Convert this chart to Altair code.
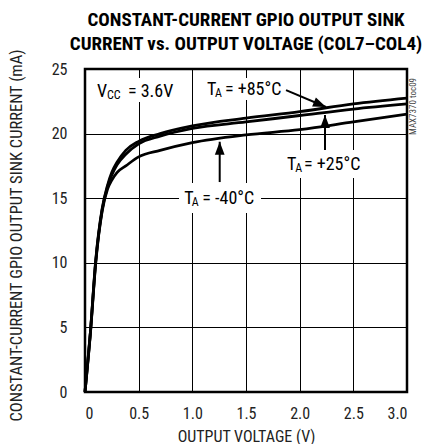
import altair as alt
import pandas as pd

FONT = "'Liberation Sans Narrow', 'Arial Narrow', 'Roboto Condensed', 'DejaVu Sans Condensed', 'Liberation Sans', sans-serif"

# ---- curve data ----
voltage = [0, 0.05, 0.1, 0.16, 0.21, 0.25, 0.30, 0.38, 0.5, 0.7, 1.0, 1.5, 2.0, 2.5, 3.0]
i_p85 = [0, 4.6, 10.2, 14.2, 16.0, 17.0, 17.8, 18.7, 19.4, 20.0, 20.6, 21.2, 21.7, 22.3, 22.75]
i_p25 = [0, 4.6, 10.1, 14.1, 15.9, 16.8, 17.6, 18.4, 19.2, 19.8, 20.4, 20.9, 21.4, 21.9, 22.3]
i_m40 = [0, 4.5, 10.0, 14.0, 15.7, 16.4, 17.0, 17.5, 18.2, 18.7, 19.3, 19.9, 20.3, 20.9, 21.5]
series_names = ["+85", "+25", "-40"]

x_ticks = [0, 0.5, 1.0, 1.5, 2.0, 2.5, 3.0]
y_ticks = [0, 5, 10, 15, 20, 25]

# ---- annotation text segments ----
seg_text = ["V", "CC", "= 3.6V",
            "T", "A", "= +85°C",
            "T", "A", "= +25°C",
            "T", "A", "= -40°C"]
seg_x = [0.112, 0.205, 0.40,
         1.137, 1.211, 1.304,
         1.883, 1.958, 2.04,
         0.925, 0.995, 1.093]
seg_y = [22.83, 22.65, 22.83,
         22.99, 22.80, 22.99,
         17.18, 17.00, 17.18,
         14.55, 14.40, 14.55]
seg_size = [18, 12, 18,
            18, 12, 18,
            18, 12, 18,
            18, 12, 18]

# white boxes behind the labels (break the grid)
box_x0 = [0.065, 1.09, 1.845, 0.876]
box_x1 = [0.80, 1.88, 2.61, 1.64]
box_y0 = [22.45, 22.6, 16.56, 13.85]
box_y1 = [24.3, 24.3, 18.73, 16.18]

# arrows: shaft start -> tip
arr_x0 = [1.873, 2.236, 1.255]
arr_y0 = [23.37, 18.73, 16.25]
arr_x1 = [2.245, 2.236, 1.255]
arr_y1 = [22.06, 21.44, 19.37]
arr_angle = [113, 0, 0]

side_text = ["MAX7370 toc09"]
side_x = [3.06]
side_y = [22.1]

rows = []
for name, vals in zip(series_names, [i_p85, i_p25, i_m40]):
    for v, i in zip(voltage, vals):
        rows.append({"v": v, "i": i, "series": name})
curves = pd.DataFrame(rows)
segs = pd.DataFrame({"v": seg_x, "i": seg_y, "t": seg_text, "s": seg_size})
boxes = pd.DataFrame({"v": box_x0, "v2": box_x1, "i": box_y0, "i2": box_y1})
arrows = pd.DataFrame({"v": arr_x0, "i": arr_y0, "v2": arr_x1, "i2": arr_y1, "a": arr_angle})
side = pd.DataFrame({"v": side_x, "i": side_y, "t": side_text})

xs = alt.Scale(domain=[0, 3], nice=False, zero=False)
ys = alt.Scale(domain=[0, 25], nice=False)

x_axis = alt.Axis(
    values=x_ticks, title="OUTPUT VOLTAGE (V)",
    labelExpr="datum.value == 0 ? '0' : format(datum.value, '.1f')",
    labelPadding=13, titlePadding=7)
y_axis = alt.Axis(
    values=y_ticks, title="CONSTANT-CURRENT GPIO OUTPUT SINK CURRENT (mA)",
    labelPadding=18, titlePadding=27, titleY=166, titleFontSize=16.5)

X = alt.X("v:Q", scale=xs, axis=x_axis)
Y = alt.Y("i:Q", scale=ys, axis=y_axis)

lines = alt.Chart(curves).mark_line(color="black", strokeWidth=2.8, interpolate="monotone").encode(
    x=X, y=Y, detail="series:N",
)

rects = alt.Chart(boxes).mark_rect(color="white").encode(
    x=X, x2="v2:Q", y=Y, y2="i2:Q",
)

texts = alt.Chart(segs).mark_text(align="left", baseline="alphabetic", font=FONT, color="black").encode(
    x=X, y=Y, text="t:N",
    size=alt.Size("s:Q", scale=None, legend=None),
)

shafts = alt.Chart(arrows).mark_rule(color="black", strokeWidth=2).encode(
    x=X, x2="v2:Q", y=Y, y2="i2:Q",
)

heads = alt.Chart(arrows).mark_point(
    filled=True, shape="M0,0L0.75,2L-0.75,2Z", size=169, color="black", opacity=1, strokeWidth=0
).encode(
    x=alt.X("v2:Q", scale=xs, axis=x_axis),
    y=alt.Y("i2:Q", scale=ys, axis=y_axis),
    angle=alt.Angle("a:Q", scale=None),
)

side_lbl = alt.Chart(side).mark_text(angle=270, fontSize=9, font=FONT, color="#444",
                                      align="center", baseline="middle").encode(
    x=X, y=Y, text="t:N",
)

chart = alt.layer(rects, lines, texts, shafts, heads, side_lbl).properties(
    width=322, height=323,
    padding={"left": 0, "top": 3, "right": 5, "bottom": 0},
    title=alt.TitleParams(
        ["CONSTANT-CURRENT GPIO OUTPUT SINK", "CURRENT vs. OUTPUT VOLTAGE (COL7–COL4)"],
        font=FONT, fontSize=19, fontWeight="bold", anchor="middle", frame="group",
        lineHeight=24, offset=-6, color="black"),
).configure_view(
    stroke="black", strokeWidth=2.5
).configure_axis(
    grid=True, gridColor="black", gridOpacity=1, gridWidth=1,
    domain=False, ticks=False,
    labelFont=FONT, labelFontSize=16, labelColor="#222",
    titleFont=FONT, titleFontSize=16, titleFontWeight="normal", titleColor="#222",
)

chart.save("out.html", embed_options={"renderer": "svg", "actions": False})
